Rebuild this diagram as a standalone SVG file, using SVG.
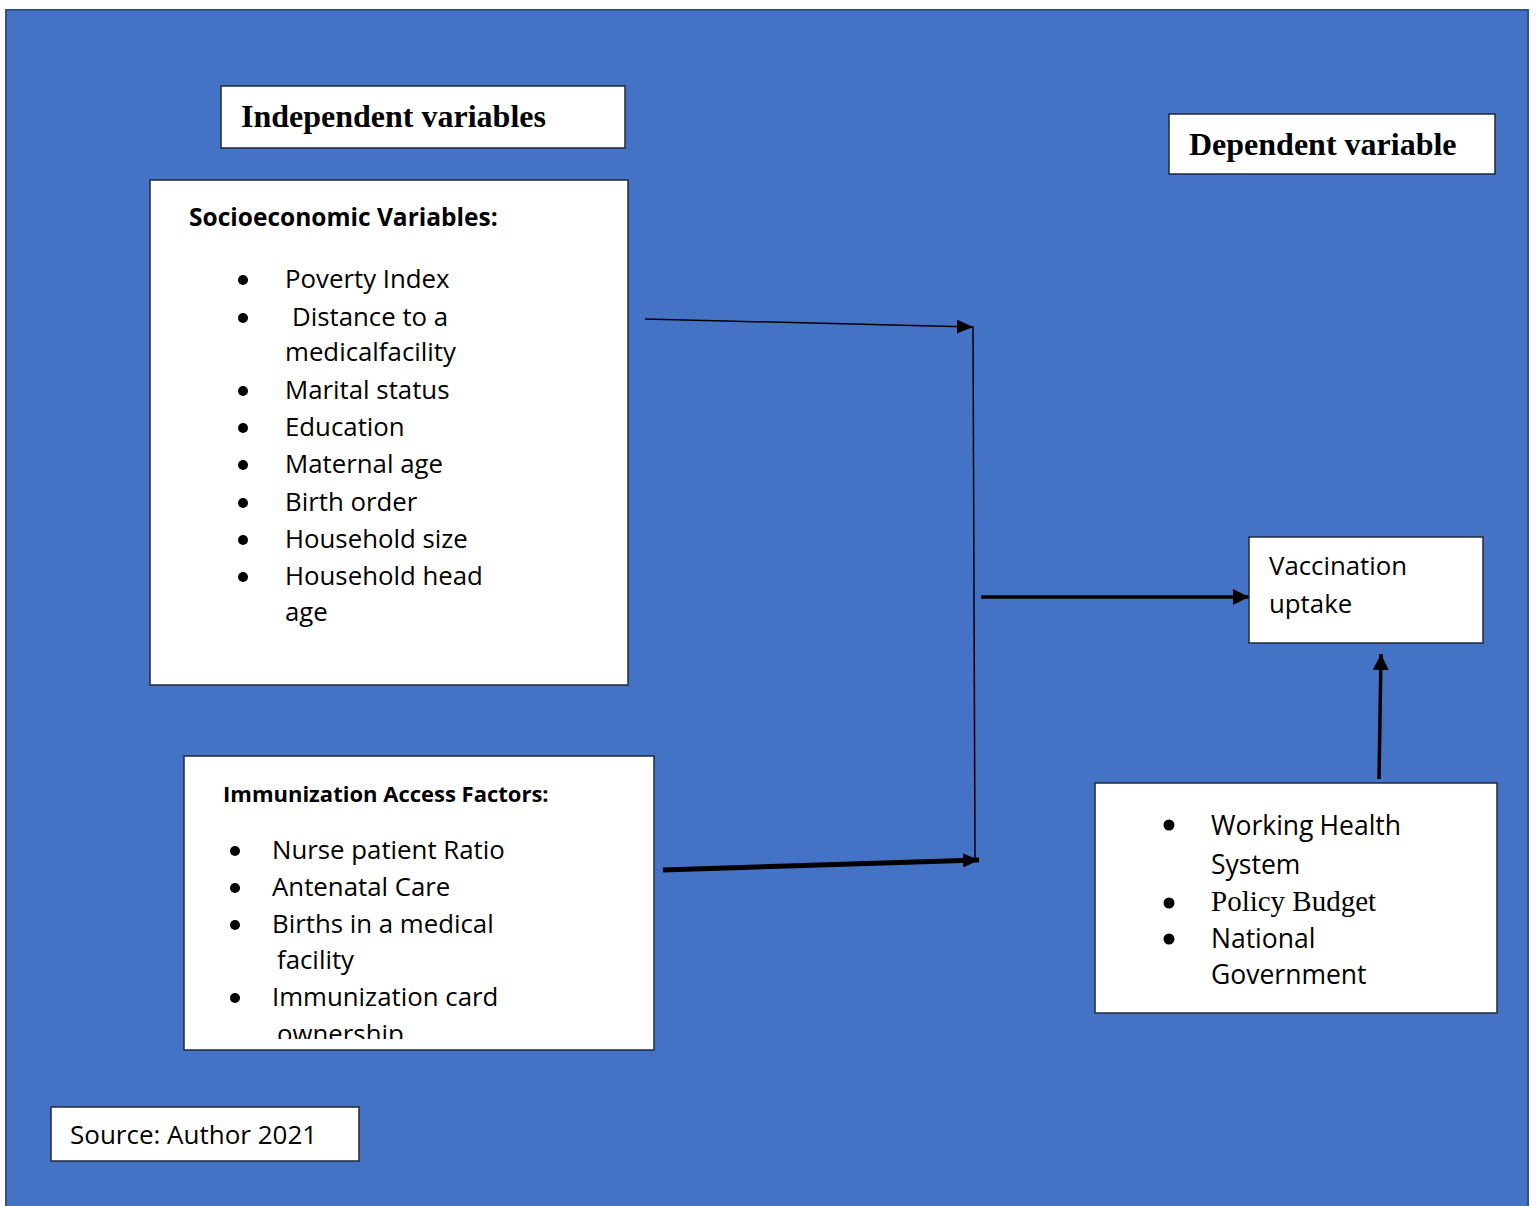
<svg xmlns="http://www.w3.org/2000/svg" width="1536" height="1206" viewBox="0 0 1536 1206">
<style>
.box{fill:#fff;stroke:#1f2a3c;stroke-width:1.5}
.hd{font-family:"Liberation Serif",serif;font-weight:bold;font-size:32px;fill:#000}
.b{font-family:"Open Sans",sans-serif;font-size:25.8px;fill:#000}
.bb{font-family:"Open Sans",sans-serif;font-size:24.5px;font-weight:bold;fill:#000}
.w{font-family:"Open Sans",sans-serif;font-size:26.5px;fill:#000}
.tr{font-family:"Liberation Serif",serif;font-size:29px;fill:#000}
.ln{fill:none;stroke:#000}
</style>
<defs>
<marker id="a1" viewBox="0 0 10 10" refX="10" refY="5" markerWidth="16" markerHeight="14" markerUnits="userSpaceOnUse" orient="auto" preserveAspectRatio="none"><path d="M0,0 L10,5 L0,10 z" fill="#000"/></marker>
<marker id="a2" viewBox="0 0 10 10" refX="10" refY="5" markerWidth="16" markerHeight="16" markerUnits="userSpaceOnUse" orient="auto" preserveAspectRatio="none"><path d="M0,0 L10,5 L0,10 z" fill="#000"/></marker>
<clipPath id="clipImm"><rect x="184" y="756" width="470" height="283"/></clipPath>
</defs>
<rect x="6" y="10" width="1522" height="1210" fill="#4472C4" stroke="#2F528F" stroke-width="2"/>

<g id="connectors">
<line class="ln" x1="645" y1="319" x2="973" y2="327" stroke-width="1.5" marker-end="url(#a1)"/>
<line class="ln" x1="973" y1="326" x2="975" y2="861" stroke-width="1.5"/>
<line class="ln" x1="663" y1="870" x2="979" y2="860" stroke-width="5" marker-end="url(#a1)"/>
<line class="ln" x1="981" y1="597" x2="1249" y2="597" stroke-width="3.5" marker-end="url(#a2)"/>
<line class="ln" x1="1379" y1="779" x2="1381" y2="654" stroke-width="3.5" marker-end="url(#a2)"/>
</g>

<g id="independent">
<rect class="box" x="221" y="86" width="404" height="62"/>
<text class="hd" x="241" y="127">Independent variables</text>
</g>

<g id="dependent">
<rect class="box" x="1169" y="114" width="326" height="60"/>
<text class="hd" x="1189" y="155">Dependent variable</text>
</g>

<g id="socioeconomic">
<rect class="box" x="150" y="180" width="478" height="505"/>
<text class="bb" x="189" y="226">Socioeconomic Variables:</text>
<g class="b">
<circle cx="243" cy="280" r="5"/><text x="285" y="288">Poverty Index</text>
<circle cx="243" cy="318" r="5"/><text x="292" y="326">Distance to a</text>
<text x="285" y="361">medicalfacility</text>
<circle cx="243" cy="391" r="5"/><text x="285" y="399">Marital status</text>
<circle cx="243" cy="428" r="5"/><text x="285" y="436">Education</text>
<circle cx="243" cy="465" r="5"/><text x="285" y="473">Maternal age</text>
<circle cx="243" cy="503" r="5"/><text x="285" y="511">Birth order</text>
<circle cx="243" cy="540" r="5"/><text x="285" y="548">Household size</text>
<circle cx="243" cy="577" r="5"/><text x="285" y="585">Household head</text>
<text x="285" y="621">age</text>
</g>
</g>

<g id="immunization">
<rect class="box" x="184" y="756" width="470" height="294"/>
<text class="bb" x="223" y="802" style="font-size:22px">Immunization Access Factors:</text>
<g class="b" clip-path="url(#clipImm)">
<circle cx="235" cy="851" r="5"/><text x="272" y="859">Nurse patient Ratio</text>
<circle cx="235" cy="888" r="5"/><text x="272" y="896">Antenatal Care</text>
<circle cx="235" cy="925" r="5"/><text x="272" y="933">Births in a medical</text>
<text x="277" y="969">facility</text>
<circle cx="235" cy="998" r="5"/><text x="272" y="1006">Immunization card</text>
<text x="277" y="1043">ownership</text>
</g>
</g>

<g id="vaccination">
<rect class="box" x="1249" y="537" width="234" height="106"/>
<text class="b" x="1269" y="575">Vaccination</text>
<text class="b" x="1269" y="613">uptake</text>
</g>

<g id="health-system">
<rect class="box" x="1095" y="783" width="402" height="230"/>
<circle cx="1169" cy="825" r="5.5"/><text class="w" x="1211" y="835">Working<tspan dx="6">Health</tspan></text>
<text class="w" x="1211" y="874">System</text>
<circle cx="1169" cy="903" r="5.5"/><text class="tr" x="1211" y="911">Policy Budget</text>
<circle cx="1169" cy="939" r="5.5"/><text class="w" x="1211" y="948">National</text>
<text class="w" x="1211" y="984">Government</text>
</g>

<g id="source">
<rect class="box" x="51" y="1107" width="308" height="54"/>
<text class="b" x="70" y="1144" style="font-size:26px">Source: Author 2021</text>
</g>
</svg>
